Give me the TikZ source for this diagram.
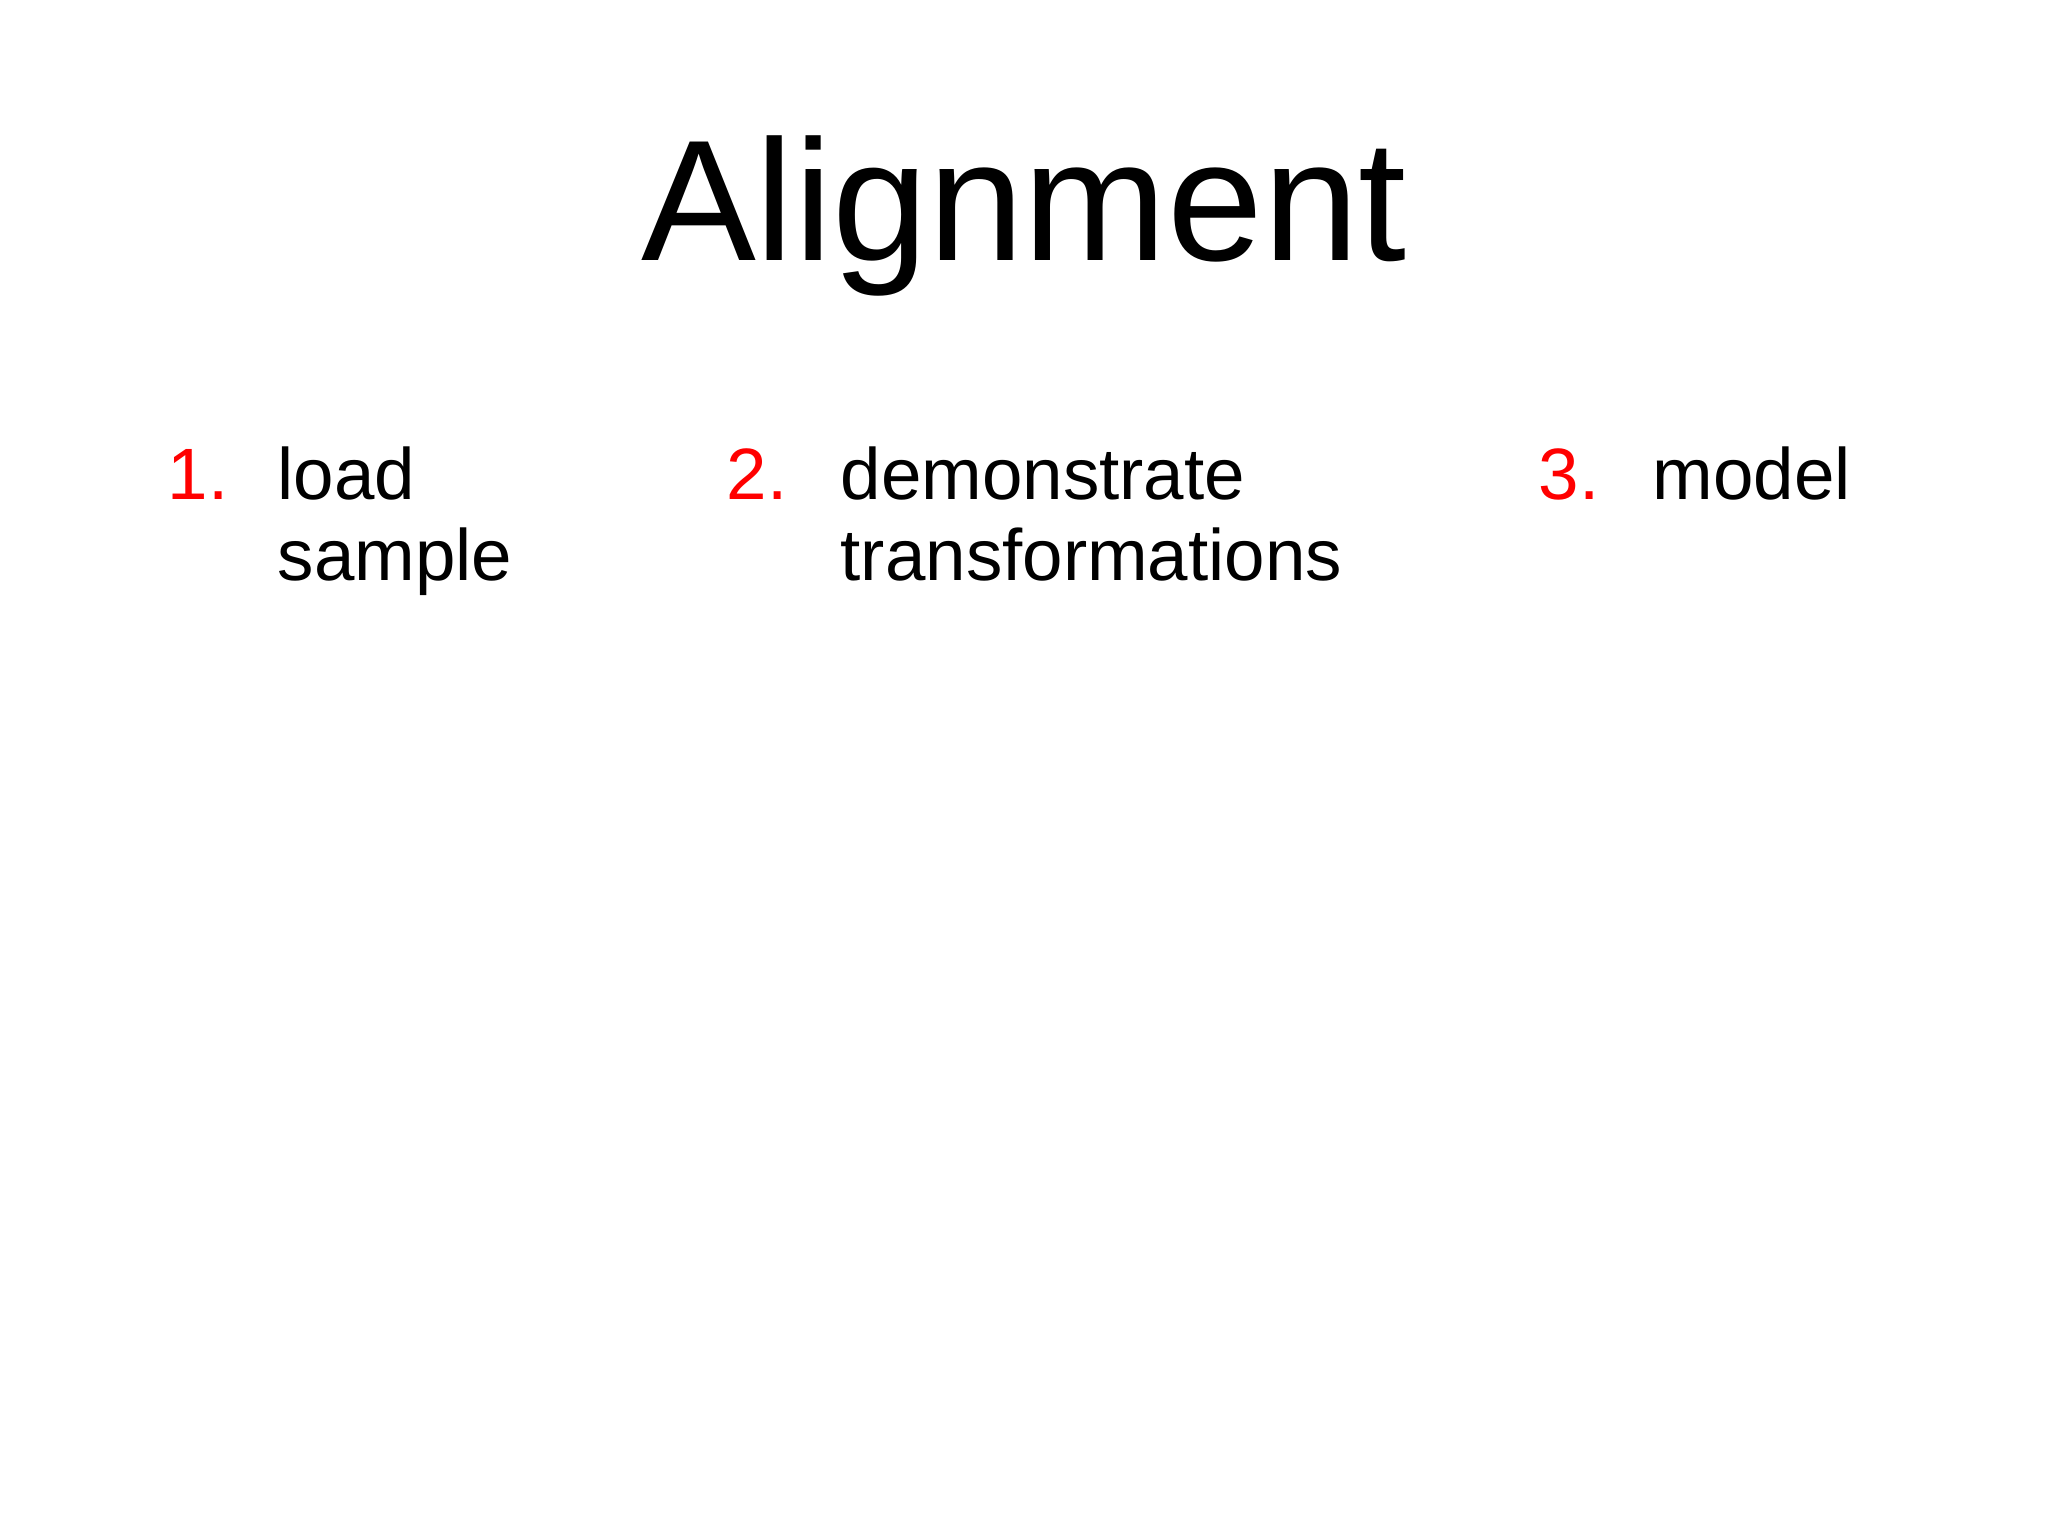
\documentclass[tikz,border=0pt]{standalone}
\usepackage{fontspec}
\setmainfont{Liberation Sans}
\begin{document}
\begin{tikzpicture}[x=1cm,y=1cm,
  txt/.style={anchor=base west,inner sep=0pt,font=\fontsize{20.7pt}{23pt}\selectfont},
  num/.style={txt,text=red}]
\useasboundingbox (0,0) rectangle (20.48,-15.36);
\fill[white] (0,0) rectangle (20.48,-15.36);
\node[anchor=base,inner sep=0pt,font=\fontsize{49pt}{55pt}\selectfont] (title) at (10.24,-2.61) {Alignment};
\node[num] (n1) at (1.67,-5.00) {1.};
\node[txt] (t1a) at (2.77,-5.00) {load};
\node[txt] (t1b) at (2.77,-5.81) {sample};
\node[num] (n2) at (7.26,-5.00) {2.};
\node[txt] (t2a) at (8.40,-5.00) {demonstrate};
\node[txt] (t2b) at (8.40,-5.81) {transformations};
\node[num] (n3) at (15.38,-5.00) {3.};
\node[txt] (t3) at (16.52,-5.00) {model};
\end{tikzpicture}
\end{document}
